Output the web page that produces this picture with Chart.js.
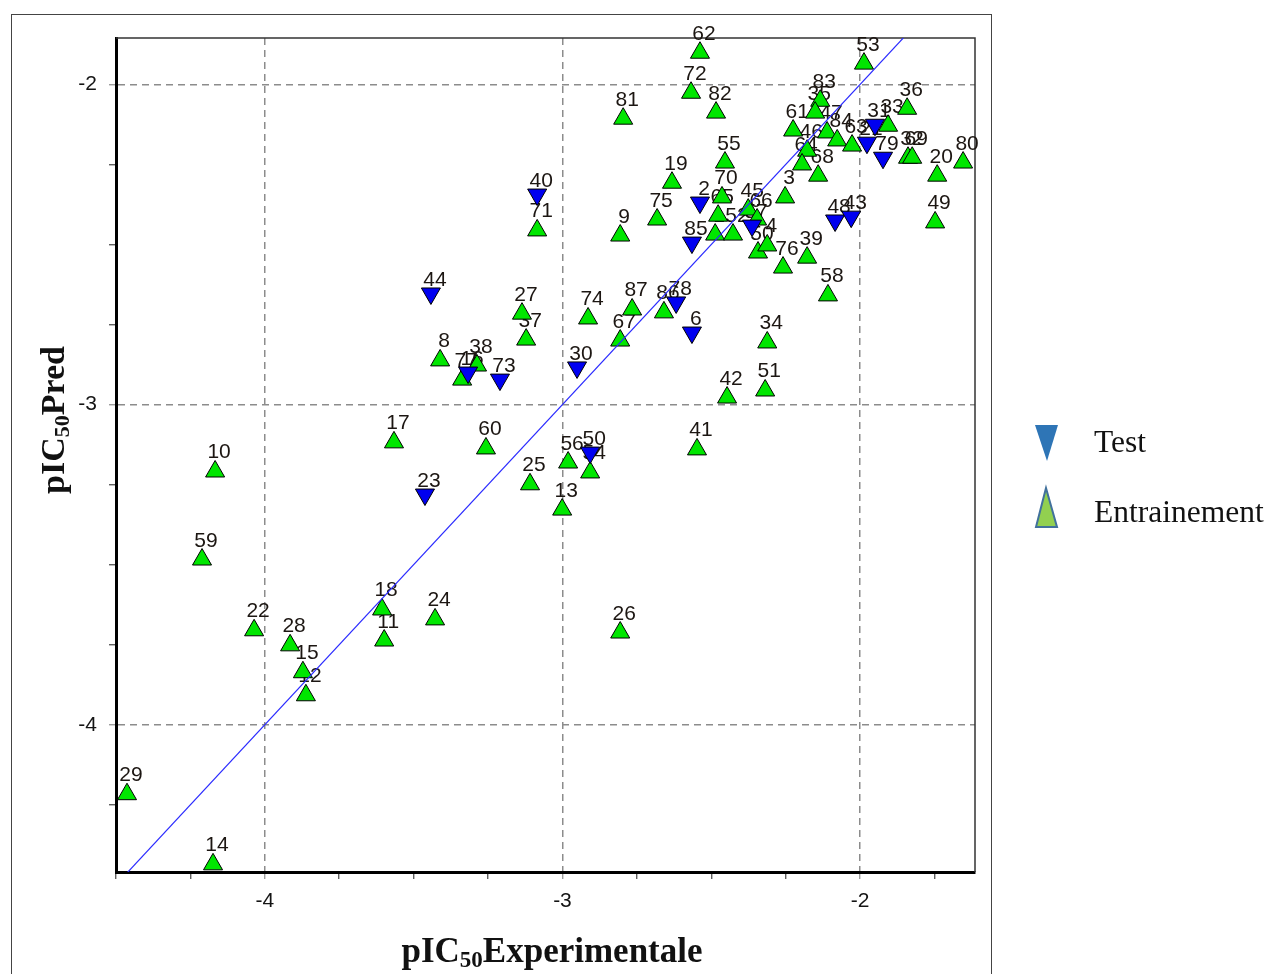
<!DOCTYPE html>
<html lang="fr">

<head>
    <meta charset="UTF-8">
    <meta name="viewport" content="width=device-width, initial-scale=1.0">
    <title>pIC50 Pred vs Experimentale</title>
    <script src="https://cdn.jsdelivr.net/npm/chart.js"></script>
    <style>
        body {
            margin: 0;
            width: 1270px;
            height: 974px;
            overflow: hidden;
            background: #fff;
            position: relative;
        }

        .frame {
            position: absolute;
            left: 11px;
            top: 14px;
            width: 979px;
            height: 980px;
            border: 1px solid #444;
        }

        .chart-box {
            position: absolute;
            left: 0;
            top: 0;
        }

        svg.overlay {
            position: absolute;
            left: 0;
            top: 0;
            pointer-events: none;
        }
    </style>
</head>

<body>
    <div class="frame"></div>
    <div class="chart-box">
        <canvas id="scatterChart" width="1000" height="974"></canvas>
    </div>

    <svg class="overlay" width="1270" height="974">
        <!-- axis titles -->
        <text x="552" y="962" text-anchor="middle" font-family="'Liberation Serif', 'Times New Roman', serif"
            font-weight="bold" font-size="35" fill="#111">pIC<tspan font-size="23" dy="5">50</tspan><tspan dy="-5">Experimentale</tspan></text>
        <text transform="translate(64,420) rotate(-90)" text-anchor="middle"
            font-family="'Liberation Serif', 'Times New Roman', serif" font-weight="bold" font-size="34"
            fill="#111">pIC<tspan font-size="22" dy="5">50</tspan><tspan dy="-5">Pred</tspan></text>

        <!-- legend -->
        <polygon points="1035,425 1058,425 1047,461" fill="#2e75b6" />
        <text x="1094" y="452" font-family="'Liberation Serif', 'Times New Roman', serif" font-size="31.5"
            fill="#111">Test</text>
        <polygon points="1046,488 1036,527 1057,527" fill="#92d050" stroke="#41719c" stroke-width="2" />
        <text x="1094" y="522" font-family="'Liberation Serif', 'Times New Roman', serif" font-size="31.5"
            fill="#111">Entrainement</text>
    </svg>

    <script>
        // training set (Entrainement)
        const trainIds = ['62', '72', '82', '81', '53', '36', '83', '35', '61', '47', '84', '63', '46', '64', '68',
            '33', '32', '69', '20', '80', '49', '9', '75', '19', '55', '70', '65', '1', '52', '45', '66', '50', '4',
            '76', '39', '3', '58', '34', '51', '42', '41', '86', '87', '67', '74', '27', '37', '71', '8', '77', '38',
            '17', '10', '60', '59', '25', '13', '56', '54', '26', '24', '18', '11', '22', '28', '15', '12', '29', '14'];
        const trainExp = [-2.538, -2.568, -2.484, -2.796, -1.987, -1.842, -2.134, -2.151, -2.225, -2.111, -2.077,
            -2.027, -2.178, -2.195, -2.141, -1.906, -1.839, -1.825, -1.741, -1.654, -1.748, -2.806, -2.682, -2.632,
            -2.454, -2.464, -2.477, -2.487, -2.427, -2.376, -2.346, -2.343, -2.312, -2.259, -2.178, -2.252, -2.108,
            -2.312, -2.319, -2.447, -2.548, -2.659, -2.766, -2.806, -2.914, -3.136, -3.122, -3.085, -3.411, -3.337,
            -3.287, -3.566, -4.167, -3.257, -4.211, -3.109, -3.001, -2.981, -2.907, -2.806, -3.428, -3.606, -3.599,
            -4.036, -3.915, -3.872, -3.862, -4.463, -4.174];
        const trainPred = [-1.901, -2.026, -2.088, -2.107, -1.935, -2.076, -2.051, -2.088, -2.144, -2.150, -2.175,
            -2.191, -2.207, -2.250, -2.285, -2.129, -2.229, -2.229, -2.285, -2.244, -2.431, -2.472, -2.422, -2.307,
            -2.244, -2.353, -2.410, -2.469, -2.469, -2.391, -2.422, -2.525, -2.503, -2.572, -2.541, -2.353, -2.659,
            -2.806, -2.956, -2.978, -3.140, -2.712, -2.703, -2.800, -2.731, -2.716, -2.797, -2.456, -2.862, -2.922,
            -2.878, -3.118, -3.209, -3.137, -3.484, -3.249, -3.328, -3.181, -3.212, -3.712, -3.671, -3.640, -3.737,
            -3.705, -3.752, -3.836, -3.908, -4.217, -4.436];

        // test set
        const testIds = ['40', '44', '30', '73', '16', '23', '50', '6', '78', '85', '2', '57', '48', '43', '79', '21', '31'];
        const testExp = [-3.085, -3.442, -2.951, -3.210, -3.317, -3.462, -2.907, -2.565, -2.618, -2.565, -2.538,
            -2.363, -2.084, -2.030, -1.923, -1.977, -1.950];
        const testPred = [-2.344, -2.653, -2.884, -2.922, -2.900, -3.281, -3.150, -2.775, -2.681, -2.494, -2.369,
            -2.441, -2.425, -2.413, -2.229, -2.182, -2.126];

        // y = x reference line
        const refLine = [-4.5, -1.6];

        const X_MIN = -4.5, X_MAX = -1.614;
        const Y_MIN = -4.46, Y_MAX = -1.855;

        const isMajor = c => c.tick && Number.isInteger(c.tick.value);

        // numbers above each marker, drawn before the markers so triangles sit on top
        const pointLabels = {
            id: 'pointLabels',
            beforeDatasetsDraw(chart) {
                const { ctx, chartArea } = chart;
                ctx.save();
                // plot frame: thin top and right edges
                ctx.strokeStyle = '#333';
                ctx.lineWidth = 1.5;
                ctx.beginPath();
                ctx.moveTo(chartArea.left, chartArea.top);
                ctx.lineTo(chartArea.right, chartArea.top);
                ctx.lineTo(chartArea.right, chartArea.bottom);
                ctx.stroke();

                ctx.font = '21px "Liberation Sans", Arial, sans-serif';
                ctx.fillStyle = '#1c1612';
                ctx.textAlign = 'center';
                ctx.textBaseline = 'alphabetic';
                chart.data.datasets.forEach((ds, di) => {
                    if (!ds.ids) return;
                    const meta = chart.getDatasetMeta(di);
                    const r = ds.pointRadius;
                    const down = ds.pointRotation === 180;
                    meta.data.forEach((pt, i) => {
                        const top = down ? pt.y - r / 2 : pt.y - r;
                        ctx.fillText(ds.ids[i], pt.x + 4, top - 2);
                    });
                });
                ctx.restore();
            }
        };

        const tickFont = { family: '"Liberation Sans", Arial, sans-serif', size: 21 };

        new Chart(document.getElementById('scatterChart'), {
            type: 'scatter',
            data: {
                datasets: [{
                    label: 'y = x',
                    type: 'line',
                    data: refLine.map(v => ({ x: v, y: v })),
                    borderColor: '#2a2aff',
                    borderWidth: 1.2,
                    pointRadius: 0,
                    fill: false,
                    order: 0
                }, {
                    label: 'Test',
                    ids: testIds,
                    data: testExp.map((x, i) => ({ x, y: testPred[i] })),
                    pointStyle: 'triangle',
                    pointRotation: 180,
                    pointRadius: 11,
                    pointBackgroundColor: '#0000f0',
                    pointBorderColor: '#000',
                    pointBorderWidth: 1,
                    order: 1
                }, {
                    label: 'Entrainement',
                    ids: trainIds,
                    data: trainExp.map((x, i) => ({ x, y: trainPred[i] })),
                    pointStyle: 'triangle',
                    pointRotation: 0,
                    pointRadius: 11,
                    pointBackgroundColor: '#00e600',
                    pointBorderColor: '#000',
                    pointBorderWidth: 1,
                    order: 2
                }]
            },
            options: {
                responsive: false,
                animation: false,
                layout: { padding: { top: 38, right: 25, left: 0, bottom: 0 } },
                plugins: {
                    legend: { display: false },
                    tooltip: { enabled: false }
                },
                scales: {
                    x: {
                        type: 'linear',
                        position: 'bottom',
                        min: X_MIN,
                        max: X_MAX,
                        afterFit: s => { s.height = 102; },
                        ticks: {
                            stepSize: 0.25,
                            includeBounds: false,
                            maxTicksLimit: 20,
                            autoSkip: false,
                            maxRotation: 0,
                            padding: 10,
                            color: '#141414',
                            font: tickFont,
                            callback: v => Number.isInteger(v) ? String(v) : ''
                        },
                        grid: {
                            color: c => isMajor(c) ? '#8c8c8c' : 'rgba(0,0,0,0)',
                            lineWidth: 1.5,
                            tickLength: 7,
                            tickColor: c => isMajor(c) ? '#8c8c8c' : '#444',
                            tickWidth: 1.2
                        },
                        border: { display: true, color: '#000', width: 3, dash: [7, 5] }
                    },
                    y: {
                        type: 'linear',
                        position: 'left',
                        min: Y_MIN,
                        max: Y_MAX,
                        afterFit: s => { s.width = 116; },
                        ticks: {
                            stepSize: 0.25,
                            includeBounds: false,
                            maxTicksLimit: 20,
                            autoSkip: false,
                            padding: 12,
                            color: '#141414',
                            font: tickFont,
                            callback: v => Number.isInteger(v) ? String(v) : ''
                        },
                        grid: {
                            color: c => isMajor(c) ? '#8c8c8c' : 'rgba(0,0,0,0)',
                            lineWidth: 1.5,
                            tickLength: 7,
                            tickColor: c => isMajor(c) ? '#8c8c8c' : '#444',
                            tickWidth: 1.2
                        },
                        border: { display: true, color: '#000', width: 3, dash: [7, 5] }
                    }
                }
            },
            plugins: [pointLabels]
        });
    </script>

</body>

</html>
